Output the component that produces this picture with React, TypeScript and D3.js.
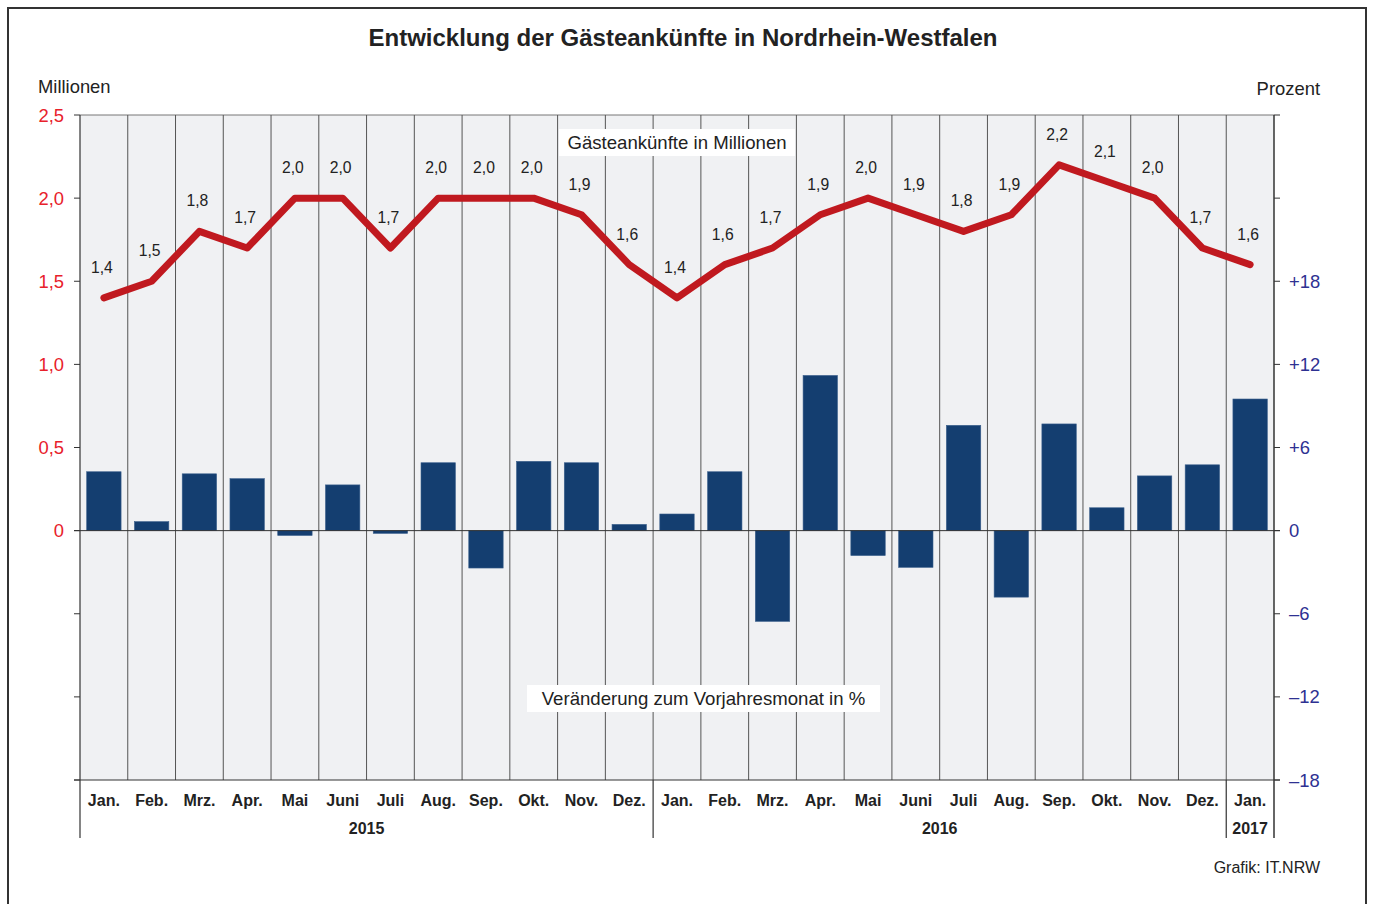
import * as d3 from 'd3'

// Gästeankünfte NRW, Jan. 2015 – Jan. 2017
const MONTHS = ['Jan.', 'Feb.', 'Mrz.', 'Apr.', 'Mai', 'Juni', 'Juli', 'Aug.', 'Sep.', 'Okt.', 'Nov.', 'Dez.',
  'Jan.', 'Feb.', 'Mrz.', 'Apr.', 'Mai', 'Juni', 'Juli', 'Aug.', 'Sep.', 'Okt.', 'Nov.', 'Dez.', 'Jan.']
const YEARS = [
  { label: '2015', from: 0, to: 12 },
  { label: '2016', from: 12, to: 24 },
  { label: '2017', from: 24, to: 25 },
]
// Ankünfte in Millionen (Linie)
const ARRIVALS = [1.4, 1.5, 1.8, 1.7, 2.0, 2.0, 1.7, 2.0, 2.0, 2.0, 1.9, 1.6,
  1.4, 1.6, 1.7, 1.9, 2.0, 1.9, 1.8, 1.9, 2.2, 2.1, 2.0, 1.7, 1.6]
// Veränderung zum Vorjahresmonat in % (Balken)
const CHANGE = [4.25, 0.65, 4.1, 3.75, -0.35, 3.3, -0.2, 4.9, -2.7, 5.0, 4.9, 0.45,
  1.2, 4.25, -6.55, 11.2, -1.8, -2.65, 7.6, -4.8, 7.7, 1.65, 3.95, 4.75, 9.5]
const LEFT_TICKS = [2.5, 2.0, 1.5, 1.0, 0.5, 0, -0.5, -1.0, -1.5]
const LEFT_LABELED = [2.5, 2.0, 1.5, 1.0, 0.5, 0]
const RIGHT_TICKS = [30, 24, 18, 12, 6, 0, -6, -12, -18]
const RIGHT_LABELED = [18, 12, 6, 0, -6, -12, -18]

const W = 1373, H = 904
const M = { left: 80, right: 1274, top: 115, bottom: 780 }
const FONT = '"Liberation Sans", Arial, Helvetica, sans-serif'

const fmtMio = (v: number) => v.toFixed(1).replace('.', ',')
const fmtPct = (v: number) => (v > 0 ? `+${v}` : v < 0 ? `\u2013${Math.abs(v)}` : '0')

export default function App() {
  const x = d3.scaleBand<number>().domain(d3.range(MONTHS.length)).range([M.left, M.right])
  const yL = d3.scaleLinear().domain([-1.5, 2.5]).range([M.bottom, M.top])
  const yR = d3.scaleLinear().domain([-18, 30]).range([M.bottom, M.top])
  const bw = x.bandwidth() * 0.72
  const cx = (i: number) => (x(i) as number) + x.bandwidth() / 2

  const line = d3.line<number>()
    .x((d, i) => cx(i))
    .y(d => yL(d))

  const boundaries = d3.range(MONTHS.length + 1).map(i => (i < MONTHS.length ? (x(i) as number) : M.right))
  const plotMid = (M.left + M.right) / 2

  return (
    <svg width={W} height={H} style={{ position: 'absolute', left: 0, top: 0, fontFamily: FONT }}>
      <rect x={0} y={0} width={W} height={H} fill="#fff" />
      <rect x={8} y={8} width={1358} height={920} fill="none" stroke="#333" strokeWidth={2} />

      <text x={683} y={46} textAnchor="middle" fontSize={24} fontWeight="bold" fill="#222">
        Entwicklung der Gästeankünfte in Nordrhein-Westfalen
      </text>
      <text x={38} y={93} fontSize={18.4} fill="#222">Millionen</text>
      <text x={1320} y={95} textAnchor="end" fontSize={18.4} fill="#222">Prozent</text>

      {/* Plotfläche */}
      <rect x={M.left} y={M.top} width={M.right - M.left} height={M.bottom - M.top} fill="#f0f1f3" />
      <line x1={M.left} x2={M.right} y1={M.top} y2={M.top} stroke="#777" strokeWidth={1} />
      {boundaries.slice(1, -1).map((bx, i) => (
        <line key={i} x1={bx} x2={bx} y1={M.top} y2={M.bottom} stroke="#555" strokeWidth={1} />
      ))}

      {/* Balken */}
      {CHANGE.map((v, i) => (
        <rect key={i} x={cx(i) - bw / 2} width={bw}
          y={Math.min(yR(v), yR(0))} height={Math.abs(yR(v) - yR(0))}
          fill="#143e70" stroke="#3a5f8c" strokeWidth={0.6} />
      ))}

      {/* Achsen */}
      <line x1={M.left - 6} x2={M.right + 6} y1={yR(0)} y2={yR(0)} stroke="#333" strokeWidth={1} />
      <line x1={M.left - 6} x2={M.right + 6} y1={M.bottom} y2={M.bottom} stroke="#333" strokeWidth={1} />
      <line x1={M.left} x2={M.left} y1={M.top} y2={838} stroke="#333" strokeWidth={1.2} />
      <line x1={M.right} x2={M.right} y1={M.top} y2={838} stroke="#333" strokeWidth={1.5} />
      {LEFT_TICKS.map(t => (
        <line key={t} x1={M.left - 6} x2={M.left} y1={yL(t)} y2={yL(t)} stroke="#333" />
      ))}
      {LEFT_LABELED.map(t => (
        <text key={t} x={64} y={yL(t) + 6.5} textAnchor="end" fontSize={18.4} fill="#e8212b">
          {t === 0 ? '0' : fmtMio(t)}
        </text>
      ))}
      {RIGHT_TICKS.map(t => (
        <line key={t} x1={M.right} x2={M.right + 6} y1={yR(t)} y2={yR(t)} stroke="#333" />
      ))}
      {RIGHT_LABELED.map(t => (
        <text key={t} x={1289} y={yR(t) + 6.5} fontSize={18.4} fill="#2e3192">{fmtPct(t)}</text>
      ))}

      {/* Linie */}
      <path d={line(ARRIVALS) ?? ''} fill="none" stroke="#c0191f" strokeWidth={7}
        strokeLinejoin="round" strokeLinecap="round" />
      {ARRIVALS.map((v, i) => (
        <text key={i} x={cx(i) - 2} y={yL(v) - 25} textAnchor="middle" fontSize={15.7} fill="#222">
          {fmtMio(v)}
        </text>
      ))}

      {/* Legendenboxen */}
      <rect x={plotMid - 118} y={129} width={236} height={27} fill="#fff" />
      <text x={plotMid} y={149} textAnchor="middle" fontSize={18.6} fill="#222">Gästeankünfte in Millionen</text>
      <rect x={527} y={685} width={353} height={27} fill="#fff" />
      <text x={703.5} y={705} textAnchor="middle" fontSize={18.6} fill="#222">Veränderung zum Vorjahresmonat in %</text>

      {/* Monate und Jahre */}
      {MONTHS.map((m, i) => (
        <text key={i} x={cx(i)} y={806} textAnchor="middle" fontSize={16} fontWeight="bold" fill="#222">{m}</text>
      ))}
      {YEARS.map(yr => (
        <g key={yr.label}>
          {yr.from > 0 && (
            <line x1={boundaries[yr.from]} x2={boundaries[yr.from]} y1={M.bottom} y2={838} stroke="#333" strokeWidth={1.2} />
          )}
          <text x={(boundaries[yr.from] + boundaries[yr.to]) / 2} y={834} textAnchor="middle"
            fontSize={16} fontWeight="bold" fill="#222">{yr.label}</text>
        </g>
      ))}

      <text x={1320} y={873} textAnchor="end" fontSize={16} fill="#222">Grafik: IT.NRW</text>
    </svg>
  )
}
